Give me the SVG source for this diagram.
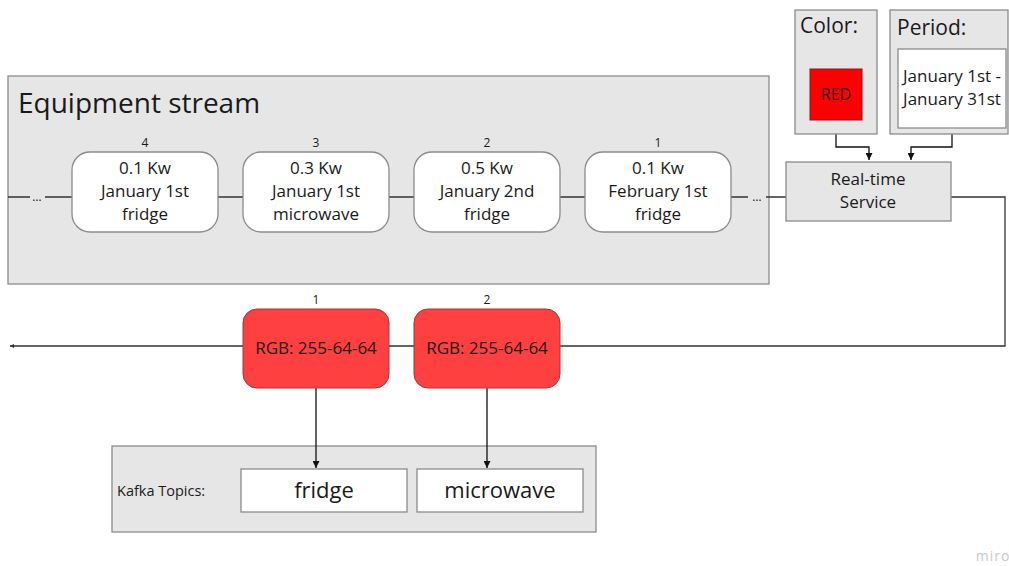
<svg xmlns="http://www.w3.org/2000/svg" width="1009" height="566" viewBox="0 0 1009 566">
<style>
text{font-family:"Open Sans","Noto Sans",sans-serif;fill:#1a1a1a}
.cont{fill:#e6e6e6;stroke:#8c8c8c;stroke-width:1.3}
.ev{fill:#fff;stroke:#8c8c8c;stroke-width:1.3}
.rgb{fill:#ff4040;stroke:#a33;stroke-width:1}
.t16{font-size:17px;text-anchor:middle}
.num{font-size:12px;text-anchor:middle}
.ln{fill:none;stroke:#333;stroke-width:1.3}
.ar{fill:none;stroke:#111;stroke-width:1.3}
</style>
<defs>
<marker id="ah" viewBox="0 0 10 10" refX="10" refY="5" markerWidth="7" markerHeight="7" orient="auto" markerUnits="userSpaceOnUse"><path d="M0,0 L10,5 L0,10 z" fill="#111"/></marker>
<marker id="dot" viewBox="0 0 10 10" refX="10" refY="5" markerWidth="4" markerHeight="4" orient="auto" markerUnits="userSpaceOnUse"><path d="M0,0 L10,5 L0,10 z" fill="#333"/></marker>
</defs>

<g id="equipment-stream">
<rect class="cont" x="8" y="76" width="761" height="208"/>
<text x="18" y="113" style="font-size:28px">Equipment stream</text>
</g>

<g id="kafka-topics">
<rect class="cont" x="112" y="446" width="484" height="86"/>
<text x="117" y="496" style="font-size:14.5px">Kafka Topics:</text>
</g>

<g id="connectors">
<path class="ln" d="M8,197 H30 M45,197 H72 M218,197 H243 M389,197 H414 M560,197 H585 M731,197 H748 M766,197 H786"/>
<path class="ln" d="M951,197 H1005 V346 H10" marker-end="url(#dot)"/>
<path class="ar" d="M836,134 V147 H869 V160" marker-end="url(#ah)"/>
<path class="ar" d="M952,134 V147 H911 V160" marker-end="url(#ah)"/>
<path class="ar" d="M316,388 V468" marker-end="url(#ah)"/>
<path class="ar" d="M487,388 V468" marker-end="url(#ah)"/>
</g>
<text x="37" y="201" class="num">…</text>
<text x="757" y="201" class="num">…</text>

<g id="event-4">
<text x="145" y="147" class="num">4</text>
<rect class="ev" x="72" y="152" width="146" height="80" rx="18"/>
<text x="145" y="174" class="t16">0.1 Kw</text>
<text x="145" y="197" class="t16">January 1st</text>
<text x="145" y="220" class="t16">fridge</text>
</g>
<g id="event-3">
<text x="316" y="147" class="num">3</text>
<rect class="ev" x="243" y="152" width="146" height="80" rx="18"/>
<text x="316" y="174" class="t16">0.3 Kw</text>
<text x="316" y="197" class="t16">January 1st</text>
<text x="316" y="220" class="t16">microwave</text>
</g>
<g id="event-2">
<text x="487" y="147" class="num">2</text>
<rect class="ev" x="414" y="152" width="146" height="80" rx="18"/>
<text x="487" y="174" class="t16">0.5 Kw</text>
<text x="487" y="197" class="t16">January 2nd</text>
<text x="487" y="220" class="t16">fridge</text>
</g>
<g id="event-1">
<text x="658" y="147" class="num">1</text>
<rect class="ev" x="585" y="152" width="146" height="80" rx="18"/>
<text x="658" y="174" class="t16">0.1 Kw</text>
<text x="658" y="197" class="t16">February 1st</text>
<text x="658" y="220" class="t16">fridge</text>
</g>

<g id="color">
<rect class="cont" x="795" y="10" width="82" height="124"/>
<text x="800" y="33" style="font-size:21px">Color:</text>
<rect x="810" y="69" width="52" height="51" fill="#ff0000" stroke="#8a1a1a" stroke-width="1"/>
<text x="836" y="100" class="t16" style="font-size:16px">RED</text>
</g>

<g id="period">
<rect class="cont" x="890" y="10" width="118" height="124"/>
<text x="897" y="35" style="font-size:21px">Period:</text>
<rect class="ev" x="898" y="49" width="108" height="79"/>
<text x="952" y="82" class="t16">January 1st -</text>
<text x="952" y="105" class="t16">January 31st</text>
</g>

<g id="realtime-service">
<rect class="cont" x="786" y="162" width="165" height="59"/>
<text x="868" y="185" class="t16">Real-time</text>
<text x="868" y="208" class="t16">Service</text>
</g>

<g id="rgb-1">
<text x="316" y="304" class="num">1</text>
<rect class="rgb" x="243" y="309" width="146" height="79" rx="14"/>
<text x="316" y="354" class="t16">RGB: 255-64-64</text>
</g>
<g id="rgb-2">
<text x="487" y="304" class="num">2</text>
<rect class="rgb" x="414" y="309" width="146" height="79" rx="14"/>
<text x="487" y="354" class="t16">RGB: 255-64-64</text>
</g>

<g id="topic-fridge">
<rect class="ev" x="241" y="469" width="166" height="43"/>
<text x="324" y="498" class="t16" style="font-size:22px">fridge</text>
</g>
<g id="topic-microwave">
<rect class="ev" x="417" y="469" width="166" height="43"/>
<text x="500" y="498" class="t16" style="font-size:22px">microwave</text>
</g>

<text x="993" y="561" style="font-size:14px;fill:#c8c8c8;letter-spacing:1px" text-anchor="middle">miro</text>
</svg>
